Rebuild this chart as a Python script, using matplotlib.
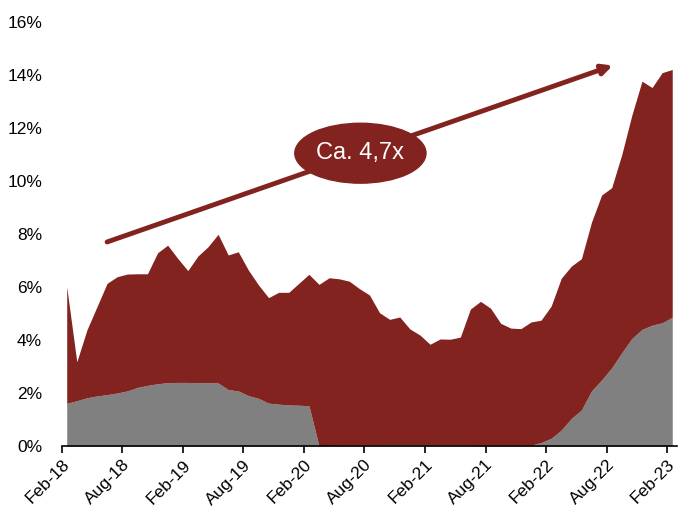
import numpy as np
import matplotlib
matplotlib.use("Agg")
import matplotlib.pyplot as plt
from matplotlib.patches import Ellipse
from matplotlib.ticker import FuncFormatter

plt.rcParams['font.family'] = ['Liberation Sans', 'DejaVu Sans']

# --------------------------------------------
# Data: monthly shares in %, Feb-18 .. Feb-23
# --------------------------------------------
total_share = [
    6.01, 3.18, 4.38, 5.26, 6.14, 6.39, 6.49, 6.50, 6.50, 7.29,
    7.58, 7.08, 6.62, 7.17, 7.52, 7.99, 7.21, 7.33, 6.64, 6.08,
    5.60, 5.80, 5.80, 6.14, 6.48, 6.10, 6.35, 6.31, 6.22, 5.94,
    5.70, 5.03, 4.78, 4.87, 4.42, 4.19, 3.84, 4.04, 4.03, 4.11,
    5.17, 5.46, 5.20, 4.63, 4.45, 4.43, 4.68, 4.75, 5.28, 6.33,
    6.79, 7.07, 8.45, 9.47, 9.75, 11.00, 12.49, 13.77, 13.53, 14.09,
    14.21,
]
gray_share = [
    1.61, 1.71, 1.82, 1.89, 1.94, 2.00, 2.08, 2.21, 2.29, 2.35,
    2.39, 2.40, 2.40, 2.39, 2.39, 2.38, 2.13, 2.08, 1.90, 1.80,
    1.62, 1.58, 1.55, 1.54, 1.52, 0.00, 0.02, 0.03, 0.03, 0.03,
    0.04, 0.04, 0.05, 0.05, 0.05, 0.05, 0.04, 0.04, 0.04, 0.04,
    0.03, 0.03, 0.03, 0.03, 0.03, 0.03, 0.03, 0.13, 0.29, 0.60,
    1.04, 1.36, 2.08, 2.49, 2.95, 3.52, 4.06, 4.40, 4.56, 4.65,
    4.86,
]
tick_labels = ["Feb-18", "Aug-18", "Feb-19", "Aug-19", "Feb-20", "Aug-20",
               "Feb-21", "Aug-21", "Feb-22", "Aug-22", "Feb-23"]
growth_label = "Ca. 4,7x"

RED = "#832320"
GRAY = "#808080"

x = np.arange(len(total_share))

fig = plt.figure(figsize=(6.86, 5.08), dpi=100)
ax = fig.add_axes([0.0899, 0.1220, 0.8974, 0.8346])

ax.fill_between(x, 0, gray_share, color=GRAY, linewidth=0)
ax.fill_between(x, gray_share, total_share, color=RED, linewidth=0)

ax.set_xlim(-0.5, len(x) - 0.5)
ax.set_ylim(0, 16)

# ticks sit between the monthly categories, one every six months
ax.set_xticks(np.arange(len(tick_labels)) * 6 - 0.5)
ax.set_xticklabels(tick_labels, rotation=45, ha="right",
                   rotation_mode="anchor", fontsize=12.5)
ax.tick_params(axis="x", direction="out", length=5, width=1.2,
               color="black", pad=3)

ax.set_yticks(np.arange(0, 17, 2))
ax.yaxis.set_major_formatter(FuncFormatter(lambda v, p: f"{v:.0f}%"))
ax.tick_params(axis="y", length=0, pad=14, labelsize=12.5)

for side in ["left", "right", "top"]:
    ax.spines[side].set_visible(False)
ax.spines["bottom"].set_linewidth(1.2)

# growth arrow with the ratio badge
ax.annotate("", xy=(54.1, 14.36), xytext=(4.0, 7.70),
            arrowprops=dict(arrowstyle="-|>,head_length=0.6,head_width=0.3",
                            color=RED, lw=3.5, shrinkA=0, shrinkB=0))
ax.add_patch(Ellipse((29.1, 11.05), 13.0, 2.26, color=RED, zorder=5))
ax.text(29.1, 11.05, growth_label, color="white", fontsize=17,
        ha="center", va="center", zorder=6)

fig.savefig("out.png", dpi=100)
